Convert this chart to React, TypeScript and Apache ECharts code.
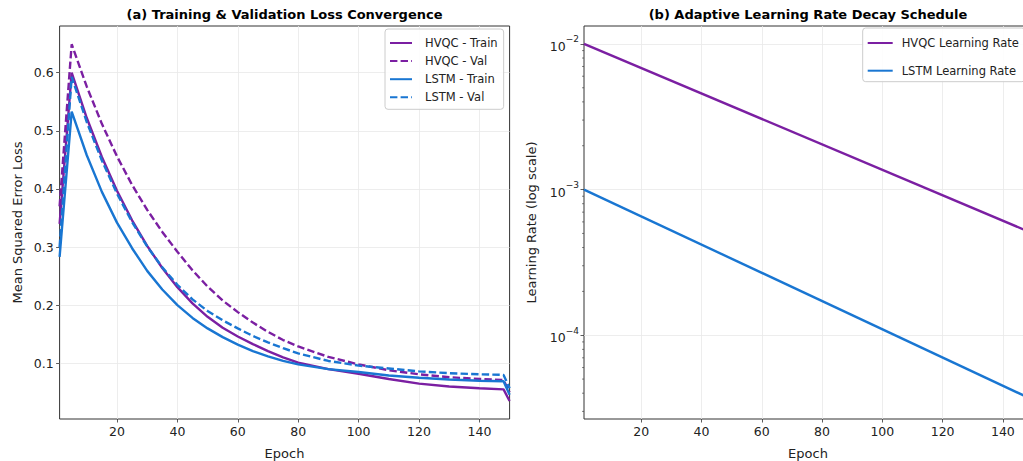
import React, { useEffect, useRef } from 'react';
import * as echarts from 'echarts';

// ---- data ----
const epochs = [1, 5, 10, 15, 20, 25, 30, 35, 40, 45, 50, 55, 60, 65, 70, 75, 80, 90, 100, 110, 120, 130, 140, 148, 150];
const hvqcTrain = [0.34, 0.6, 0.522, 0.455, 0.397, 0.346, 0.302, 0.264, 0.231, 0.203, 0.18, 0.161, 0.146, 0.133, 0.121, 0.11, 0.101, 0.09, 0.082, 0.073, 0.065, 0.06, 0.057, 0.055, 0.035];
const hvqcVal = [0.37, 0.649, 0.576, 0.512, 0.456, 0.407, 0.364, 0.326, 0.292, 0.26, 0.232, 0.208, 0.188, 0.17, 0.154, 0.14, 0.129, 0.111, 0.098, 0.088, 0.081, 0.076, 0.073, 0.071, 0.05];
const lstmTrain = [0.283, 0.533, 0.458, 0.395, 0.342, 0.298, 0.259, 0.227, 0.2, 0.178, 0.16, 0.145, 0.132, 0.121, 0.112, 0.104, 0.098, 0.09, 0.085, 0.079, 0.075, 0.072, 0.07, 0.069, 0.046];
const lstmVal = [0.3, 0.593, 0.515, 0.449, 0.392, 0.343, 0.301, 0.265, 0.235, 0.21, 0.19, 0.174, 0.16, 0.147, 0.136, 0.126, 0.117, 0.104, 0.096, 0.091, 0.086, 0.083, 0.081, 0.08, 0.057];

const lrEpochs = [1, 150];
const hvqcLr = [0.01, 5.0e-4];
const lstmLr = [0.001, 3.6e-5];

const epochTicks = [20, 40, 60, 80, 100, 120, 140];
const lossTicks = [0.1, 0.2, 0.3, 0.4, 0.5, 0.6];
const lrTicks = [1e-4, 1e-3, 1e-2];
const lrMinorTicks = [
  3e-5, 4e-5, 5e-5, 6e-5, 7e-5, 8e-5, 9e-5,
  2e-4, 3e-4, 4e-4, 5e-4, 6e-4, 7e-4, 8e-4, 9e-4,
  2e-3, 3e-3, 4e-3, 5e-3, 6e-3, 7e-3, 8e-3, 9e-3,
];

const PURPLE = '#7B1FA2';
const BLUE = '#1976D2';
const FONT = 'DejaVu Sans';
const TXT = '#222';
const DASH = [7.4, 3.2];

const pairs = (xs: number[], ys: number[]) => xs.map((x, i) => [x, ys[i]]);

export default function App() {
  const ref = useRef<HTMLDivElement>(null);
  useEffect(() => {
    if (!ref.current) return;
    const chart = echarts.init(ref.current, undefined, { renderer: 'svg' });

    const xAxisBase = (gridIndex: number) => ({
      type: 'value',
      gridIndex,
      min: 1,
      max: 150,
      splitNumber: 7,
      axisLine: { show: false },
      axisTick: { show: true, length: 3.5, customValues: epochTicks, lineStyle: { color: '#333', width: 0.8 } },
      axisLabel: { customValues: epochTicks, fontSize: 12.5, fontFamily: FONT, color: TXT, margin: 6 },
      splitLine: { show: true, lineStyle: { color: '#e8e8e8', width: 0.8 } },
    });

    const lineSeries = (name: string, data: number[], color: string, dashed: boolean, xi: number) => ({
      name,
      type: 'line',
      xAxisIndex: xi,
      yAxisIndex: xi,
      data: pairs(xi === 0 ? epochs : lrEpochs, data),
      symbol: 'none',
      showSymbol: false,
      lineStyle: { color, width: 2.4, type: dashed ? DASH : 'solid' },
      itemStyle: { color },
      z: 3,
    });

    const legendCommon = {
      orient: 'vertical',
      itemHeight: 12,
      borderColor: '#cccccc',
      borderWidth: 1,
      borderRadius: 3,
      backgroundColor: 'rgba(255,255,255,0.85)',
      itemStyle: { opacity: 0, color: 'transparent', borderWidth: 0 },
    };

    const option: any = {
      animation: false,
      grid: [
        { left: 59.6, top: 26, width: 450, height: 393, show: true, borderColor: '#333', borderWidth: 1, backgroundColor: 'transparent' },
        { left: 584, top: 26, width: 449, height: 393, show: true, borderColor: '#333', borderWidth: 1, backgroundColor: 'transparent' },
      ],
      xAxis: [xAxisBase(0), xAxisBase(1)],
      yAxis: [
        {
          type: 'value',
          gridIndex: 0,
          min: 0.0041,
          max: 0.6804,
          splitNumber: 6,
          axisLine: { show: false },
          axisTick: { show: true, length: 3.5, customValues: lossTicks, lineStyle: { color: '#333', width: 0.8 } },
          axisLabel: {
            customValues: lossTicks,
            fontSize: 12.5,
            fontFamily: FONT,
            color: TXT,
            margin: 6,
            formatter: (v: number) => (Math.abs(v * 10 - Math.round(v * 10)) < 1e-6 ? v.toFixed(1) : ''),
          },
          splitLine: { show: true, lineStyle: { color: '#e8e8e8', width: 0.8 } },
        },
        {
          type: 'log',
          logBase: 10,
          gridIndex: 1,
          min: Math.pow(10, -4.575),
          max: Math.pow(10, -1.877),
          splitNumber: 2,
          axisLine: { show: false },
          axisTick: { show: true, length: 3.5, customValues: lrTicks, lineStyle: { color: '#333', width: 0.8 } },
          axisLabel: {
            customValues: lrTicks,
            margin: 5,
            formatter: (v: number) => {
              const e = Math.round(Math.log10(v));
              return `{b|10}{s|\u2212${-e}}`;
            },
            rich: {
              b: { fontSize: 12.5, fontFamily: FONT, color: TXT, lineHeight: 18, verticalAlign: 'bottom' },
              s: { fontSize: 9, fontFamily: FONT, color: TXT, lineHeight: 9, verticalAlign: 'top' },
            },
          },
          splitLine: { show: true, lineStyle: { color: '#e8e8e8', width: 0.8 } },
        },
      ],
      legend: [
        {
          ...legendCommon,
          data: ['HVQC - Train', 'HVQC - Val', 'LSTM - Train', 'LSTM - Val'],
          left: 385,
          top: 29,
          itemWidth: 22,
          itemGap: 6.1,
          padding: [8, 6, 6, 4],
          textStyle: { fontSize: 11.5, fontFamily: FONT, color: TXT, padding: [0, 0, 0, 8] },
        },
        {
          ...legendCommon,
          data: ['HVQC Learning Rate', 'LSTM Learning Rate'],
          left: 862.7,
          top: 28,
          itemWidth: 25,
          itemGap: 15.7,
          padding: [9, 6, 5, 4],
          textStyle: { fontSize: 11.5, fontFamily: FONT, color: TXT, padding: [0, 0, 0, 4] },
        },
      ],
      series: [
        lineSeries('HVQC - Train', hvqcTrain, PURPLE, false, 0),
        lineSeries('HVQC - Val', hvqcVal, PURPLE, true, 0),
        lineSeries('LSTM - Train', lstmTrain, BLUE, false, 0),
        lineSeries('LSTM - Val', lstmVal, BLUE, true, 0),
        lineSeries('HVQC Learning Rate', hvqcLr, PURPLE, false, 1),
        lineSeries('LSTM Learning Rate', lstmLr, BLUE, false, 1),
        {
          type: 'custom',
          xAxisIndex: 1,
          yAxisIndex: 1,
          silent: true,
          clip: false,
          data: lrMinorTicks.map((v) => [1, v]),
          encode: { x: 0, y: 1 },
          renderItem: (params: any, api: any) => {
            const p = api.coord([api.value(0), api.value(1)]);
            return {
              type: 'line',
              shape: { x1: p[0] - 2, y1: p[1], x2: p[0], y2: p[1] },
              style: { stroke: '#333', lineWidth: 0.6 },
            };
          },
        },
      ],
      graphic: [
        { type: 'text', x: 284.5, y: 14, style: { text: '(a) Training & Validation Loss Convergence', font: `bold 13px "${FONT}"`, fill: '#000', textAlign: 'center', textVerticalAlign: 'middle' } },
        { type: 'text', x: 808, y: 14, style: { text: '(b) Adaptive Learning Rate Decay Schedule', font: `bold 13px "${FONT}"`, fill: '#000', textAlign: 'center', textVerticalAlign: 'middle' } },
        { type: 'text', x: 284.5, y: 453, style: { text: 'Epoch', font: `13px "${FONT}"`, fill: TXT, textAlign: 'center', textVerticalAlign: 'middle' } },
        { type: 'text', x: 808, y: 453, style: { text: 'Epoch', font: `13px "${FONT}"`, fill: TXT, textAlign: 'center', textVerticalAlign: 'middle' } },
        { type: 'text', x: 17, y: 222.5, rotation: Math.PI / 2, style: { text: 'Mean Squared Error Loss', font: `13px "${FONT}"`, fill: TXT, textAlign: 'center', textVerticalAlign: 'middle' } },
        { type: 'text', x: 531, y: 222.5, rotation: Math.PI / 2, style: { text: 'Learning Rate (log scale)', font: `13px "${FONT}"`, fill: TXT, textAlign: 'center', textVerticalAlign: 'middle' } },
      ],
    };

    chart.setOption(option);
    return () => chart.dispose();
  }, []);

  return (
    <div style={{ position: 'fixed', left: 0, top: 0, width: 1023, height: 461, overflow: 'hidden', background: '#fff' }}>
      <div ref={ref} style={{ width: 1045, height: 461 }} />
    </div>
  );
}
